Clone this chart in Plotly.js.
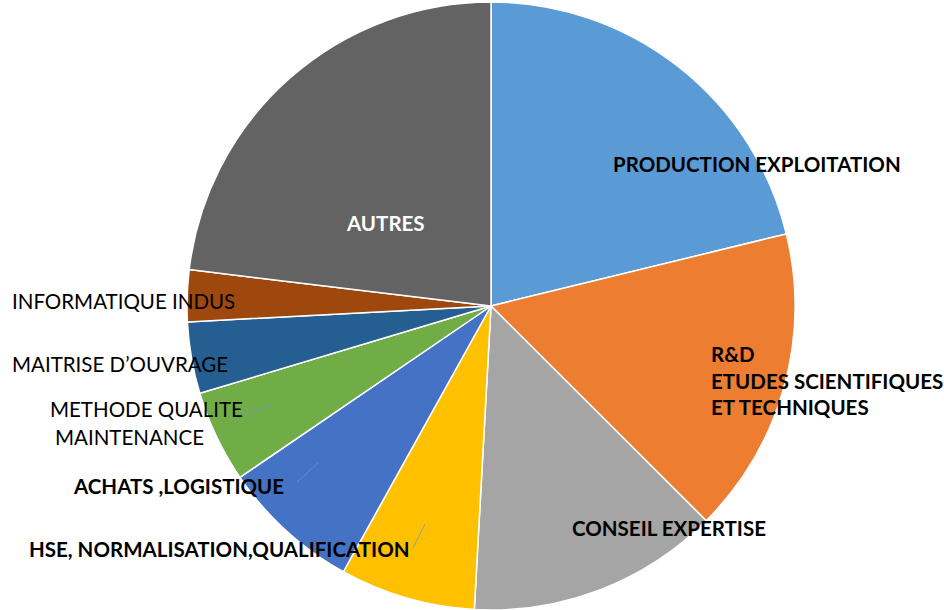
<!DOCTYPE html>
<html>
<head>
<meta charset="utf-8">
<script src="https://cdn.plot.ly/plotly-3.0.1.min.js"></script>
<style>
  html, body { margin: 0; padding: 0; background: #ffffff; }
  #chart { width: 944px; height: 610px; }
</style>
</head>
<body>
<div id="chart"></div>
<script>
// Data (approximate shares, %)
var categories = [
  "PRODUCTION EXPLOITATION",
  "R&D ETUDES SCIENTIFIQUES ET TECHNIQUES",
  "CONSEIL EXPERTISE",
  "HSE, NORMALISATION,QUALIFICATION",
  "ACHATS ,LOGISTIQUE",
  "METHODE QUALITE MAINTENANCE",
  "MAITRISE D’OUVRAGE",
  "INFORMATIQUE INDUS",
  "AUTRES"
];
var shares = [21.2, 16.3, 13.4, 7.2, 7.4, 4.9, 3.8, 2.75, 23.1];
var sliceColors = ["#5B9BD5", "#ED7D31", "#A5A5A5", "#FFC000", "#4472C4",
                   "#70AD47", "#255E91", "#9E480E", "#636363"];

var W = 944, H = 610;
function px(x) { return x / W; }
function py(y) { return 1 - y / H; }

var FONT = "Lato, 'Open Sans', sans-serif";

function label(text, x, y, opts) {
  opts = opts || {};
  return {
    text: text,
    xref: "paper", yref: "paper",
    x: px(x), y: py(y),
    xanchor: opts.xanchor || "center",
    yanchor: "middle",
    align: opts.align || "center",
    showarrow: false,
    font: {
      family: FONT,
      size: opts.size || 20.5,
      color: opts.color || "#000000",
      weight: opts.bold ? 700 : 400
    }
  };
}

var annotations = [
  label("PRODUCTION EXPLOITATION", 757, 164, {bold: true}),
  label("AUTRES", 385, 223, {bold: true, color: "#ffffff"}),
  label("R&amp;D<br>ETUDES SCIENTIFIQUES<br>ET TECHNIQUES", 709, 380, {bold: true, xanchor: "left", align: "left"}),
  label("CONSEIL EXPERTISE", 669, 528, {bold: true}),
  label("HSE, NORMALISATION,QUALIFICATION", 219, 549, {bold: true}),
  label("ACHATS ,LOGISTIQUE", 178, 486, {bold: true}),
  label("METHODE QUALITE", 48, 409, {xanchor: "left", align: "left"}),
  label("MAINTENANCE", 53, 437, {xanchor: "left", align: "left"}),
  label("MAITRISE D’OUVRAGE", 10, 364, {xanchor: "left", align: "left"}),
  label("INFORMATIQUE INDUS", 10, 301, {xanchor: "left", align: "left"})
];

function leader(x0, y0, x1, y1) {
  return {
    type: "line", xref: "paper", yref: "paper",
    x0: px(x0), y0: py(y0), x1: px(x1), y1: py(y1),
    line: {color: "rgba(120,150,190,0.8)", width: 1}
  };
}
var shapes = [
  leader(240, 415, 273, 405),
  leader(297, 482, 318, 463),
  leader(413, 548, 425, 524)
];

var cx = 491, cy = 306, r = 304;
var trace = {
  type: "pie",
  labels: categories,
  values: shares,
  sort: false,
  direction: "clockwise",
  rotation: 0,
  textinfo: "none",
  hoverinfo: "label+percent",
  marker: { colors: sliceColors, line: { color: "#ffffff", width: 1.5 } },
  domain: {
    x: [px(cx - r), px(cx + r)],
    y: [Math.max(0, py(cy + r)), Math.min(1, py(cy - r))]
  },
  showlegend: false
};

var layout = {
  width: W, height: H,
  margin: {l: 0, r: 0, t: 0, b: 0},
  paper_bgcolor: "#ffffff",
  showlegend: false,
  annotations: annotations,
  shapes: shapes
};

Plotly.newPlot("chart", [trace], layout, {displayModeBar: false, staticPlot: true});
</script>
</body>
</html>
